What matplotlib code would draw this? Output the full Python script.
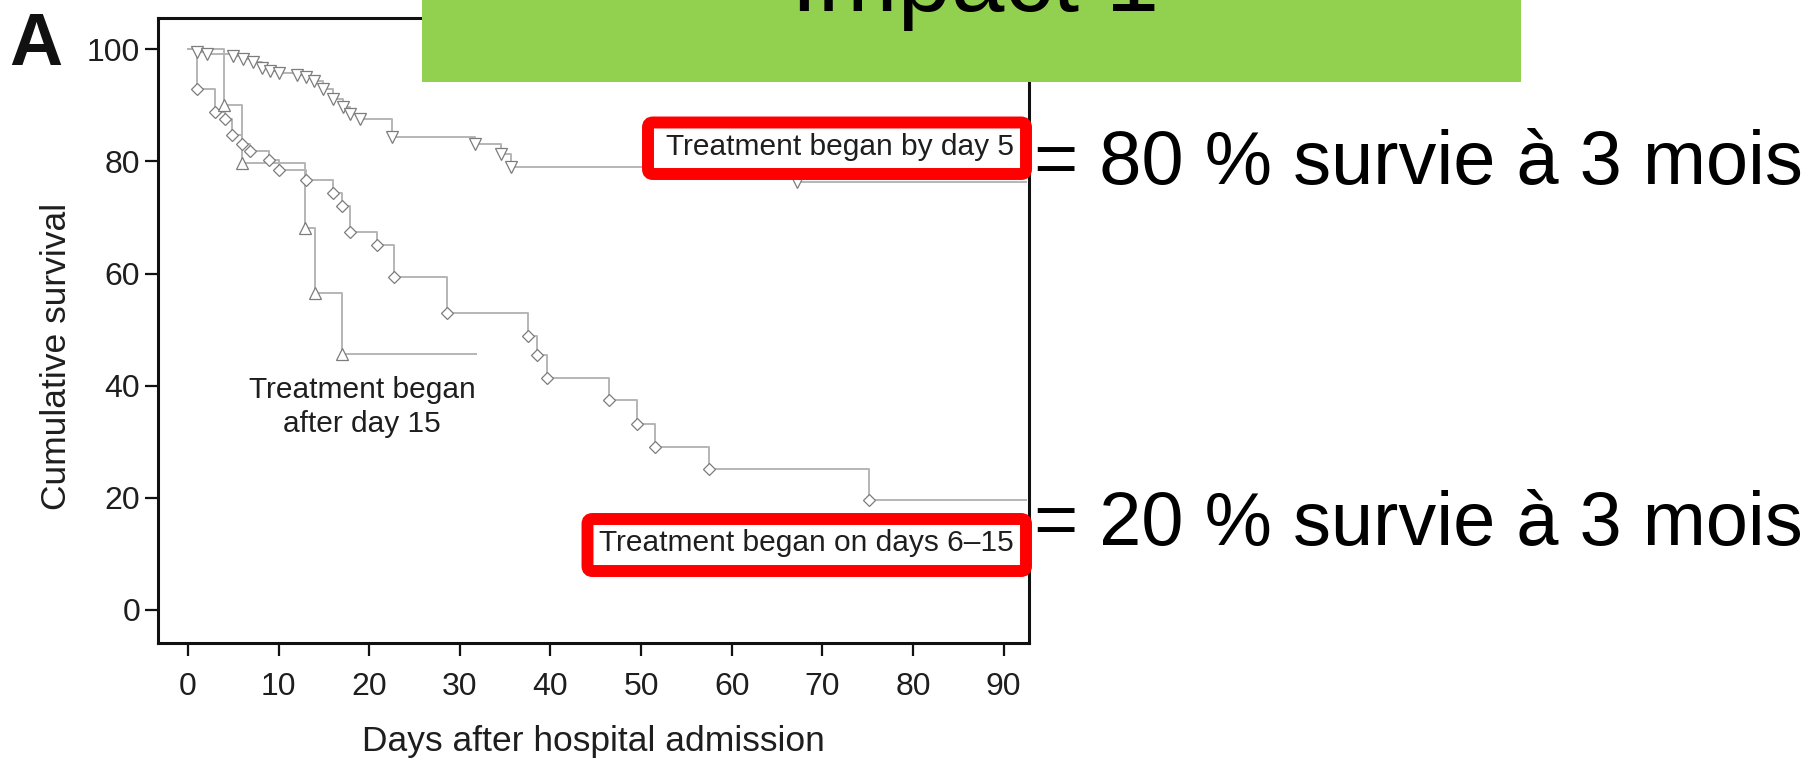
import matplotlib
matplotlib.use("Agg")
import matplotlib.pyplot as plt
from matplotlib import font_manager
from matplotlib.patches import FancyBboxPatch, Rectangle

# ---------------- data ----------------
days_by5 = [1.0, 2.1, 5.0, 6.1, 7.2, 8.2, 9.1, 10.1, 12.0, 13.0, 13.9, 14.9,
            16.0, 17.1, 17.9, 19.0, 22.5, 31.7, 34.5, 35.7, 67.2]
surv_by5 = [99.6, 99.1, 98.9, 98.3, 97.8, 96.7, 96.1, 95.8, 95.4, 95.0, 94.4, 92.9,
            91.1, 89.8, 88.4, 87.6, 84.4, 83.2, 81.4, 79.0, 76.3]
end_by5 = 92.5

days_6_15 = [1.0, 3.0, 4.1, 4.9, 6.0, 6.9, 9.0, 10.1, 13.0, 16.0, 17.0, 17.9,
             20.9, 22.7, 28.6, 37.5, 38.5, 39.6, 46.5, 49.5, 51.5, 57.5, 75.1]
surv_6_15 = [93.0, 88.9, 87.6, 84.8, 83.2, 81.9, 80.3, 78.4, 76.7, 74.4, 72.1, 67.5,
             65.1, 59.4, 52.9, 48.9, 45.4, 41.3, 37.4, 33.2, 29.1, 25.1, 19.7]
end_6_15 = 92.5

days_after15 = [4.0, 5.95, 12.9, 14.0, 17.0]
surv_after15 = [90.0, 79.8, 68.2, 56.6, 45.6]
end_after15 = 31.8

x_ticks = [0, 10, 20, 30, 40, 50, 60, 70, 80, 90]
y_ticks = [0, 20, 40, 60, 80, 100]

label_by5 = "Treatment began by day 5"
label_6_15 = "Treatment began on days 6\u201315"
label_after15 = "Treatment began\nafter day 15"
result_by5 = "= 80 % survie \u00e0 3 mois"
result_6_15 = "= 20 % survie \u00e0 3 mois"
title_text = "Impact 1"

# ---------------- fonts ----------------
names = {f.name for f in font_manager.fontManager.ttflist}
narrow = "Liberation Sans Narrow" if "Liberation Sans Narrow" in names else "Liberation Sans"
plt.rcParams["font.family"] = ["Liberation Sans", "DejaVu Sans"]

W, H = 1816, 763
fig = plt.figure(figsize=(W / 100, H / 100), dpi=100)
fig.patch.set_facecolor("white")

ax_l, ax_r, ax_t, ax_b = 158, 1029, 18, 643
ax = fig.add_axes([ax_l / W, 1 - ax_b / H, (ax_r - ax_l) / W, (ax_b - ax_t) / H])

line_c = "#b5b5b5"
mark_c = "#7c7c7c"

def km(days, surv, end, marker, ms):
    xs = [0] + list(days) + [end]
    ys = [100] + list(surv) + [surv[-1]]
    ax.step(xs, ys, where="post", color=line_c, lw=1.4, zorder=2)
    ax.plot(days, surv, ls="none", marker=marker, ms=ms, mfc="white",
            mec=mark_c, mew=0.9, zorder=3)

km(days_by5, surv_by5, end_by5, "v", 8.5)
km(days_6_15, surv_6_15, end_6_15, "D", 6.5)
km(days_after15, surv_after15, end_after15, "^", 8.5)

ax.set_xlim(-3.3, 92.8)
ax.set_ylim(-5.9, 105.6)
ax.set_xticks(x_ticks)
ax.set_yticks(y_ticks)
txt_c = "#1e1e1e"
ax.tick_params(axis="both", direction="out", length=9.2, width=1.6,
               labelsize=23, labelcolor=txt_c, color="#111111")
ax.tick_params(axis="y", pad=3.5)
ax.tick_params(axis="x", pad=12)
for s in ax.spines.values():
    s.set_linewidth(2.2)
    s.set_color("#111111")

ax.set_xlabel("Days after hospital admission", fontsize=25.5, color=txt_c, labelpad=16)
ax.set_ylabel("Cumulative survival", fontsize=25.5, color=txt_c)
ax.yaxis.set_label_coords(-0.098, 0.458)

ax.text(19.2, 36.2, label_after15, ha="center", va="center", fontsize=21.5,
        color=txt_c, linespacing=1.3)

# panel letter
fig.text(36 / W, 1 - 65 / H, "A", ha="center", va="baseline", fontsize=53,
         fontweight="bold", family=[narrow, "Liberation Sans"], color="#111111")

# green title band
fig.add_artist(Rectangle((422 / W, 1 - 82 / H), (1521 - 422) / W, 82 / H,
                         transform=fig.transFigure, facecolor="#92D050",
                         edgecolor="none", zorder=2))
fig.text(975 / W, 1 - 11 / H, title_text, ha="center", va="baseline",
         fontsize=69, color="black", zorder=3)

# red boxes with labels
def red_box(x0, x1, ytop, ybot, text, tx, tbase):
    fig.add_artist(FancyBboxPatch((x0 / 100, (H - ybot) / 100),
                                  (x1 - x0) / 100, (ybot - ytop) / 100,
                                  boxstyle="round,pad=0,rounding_size=0.05",
                                  transform=fig.dpi_scale_trans,
                                  facecolor="white", edgecolor="#ff0000",
                                  lw=8.6, zorder=2))
    fig.text(tx / W, 1 - tbase / H, text, ha="center", va="baseline",
             fontsize=21.5, color=txt_c, zorder=3)

red_box(648, 1026, 122.5, 174, label_by5, 840, 155)
red_box(587.5, 1026, 519, 571, label_6_15, 806, 551)

# right-hand annotations
fig.text(1034 / W, 1 - 184 / H, result_by5, ha="left", va="baseline",
         fontsize=54.5, color="black")
fig.text(1034 / W, 1 - 545 / H, result_6_15, ha="left", va="baseline",
         fontsize=54.5, color="black")

fig.savefig("out.png", dpi=100)
